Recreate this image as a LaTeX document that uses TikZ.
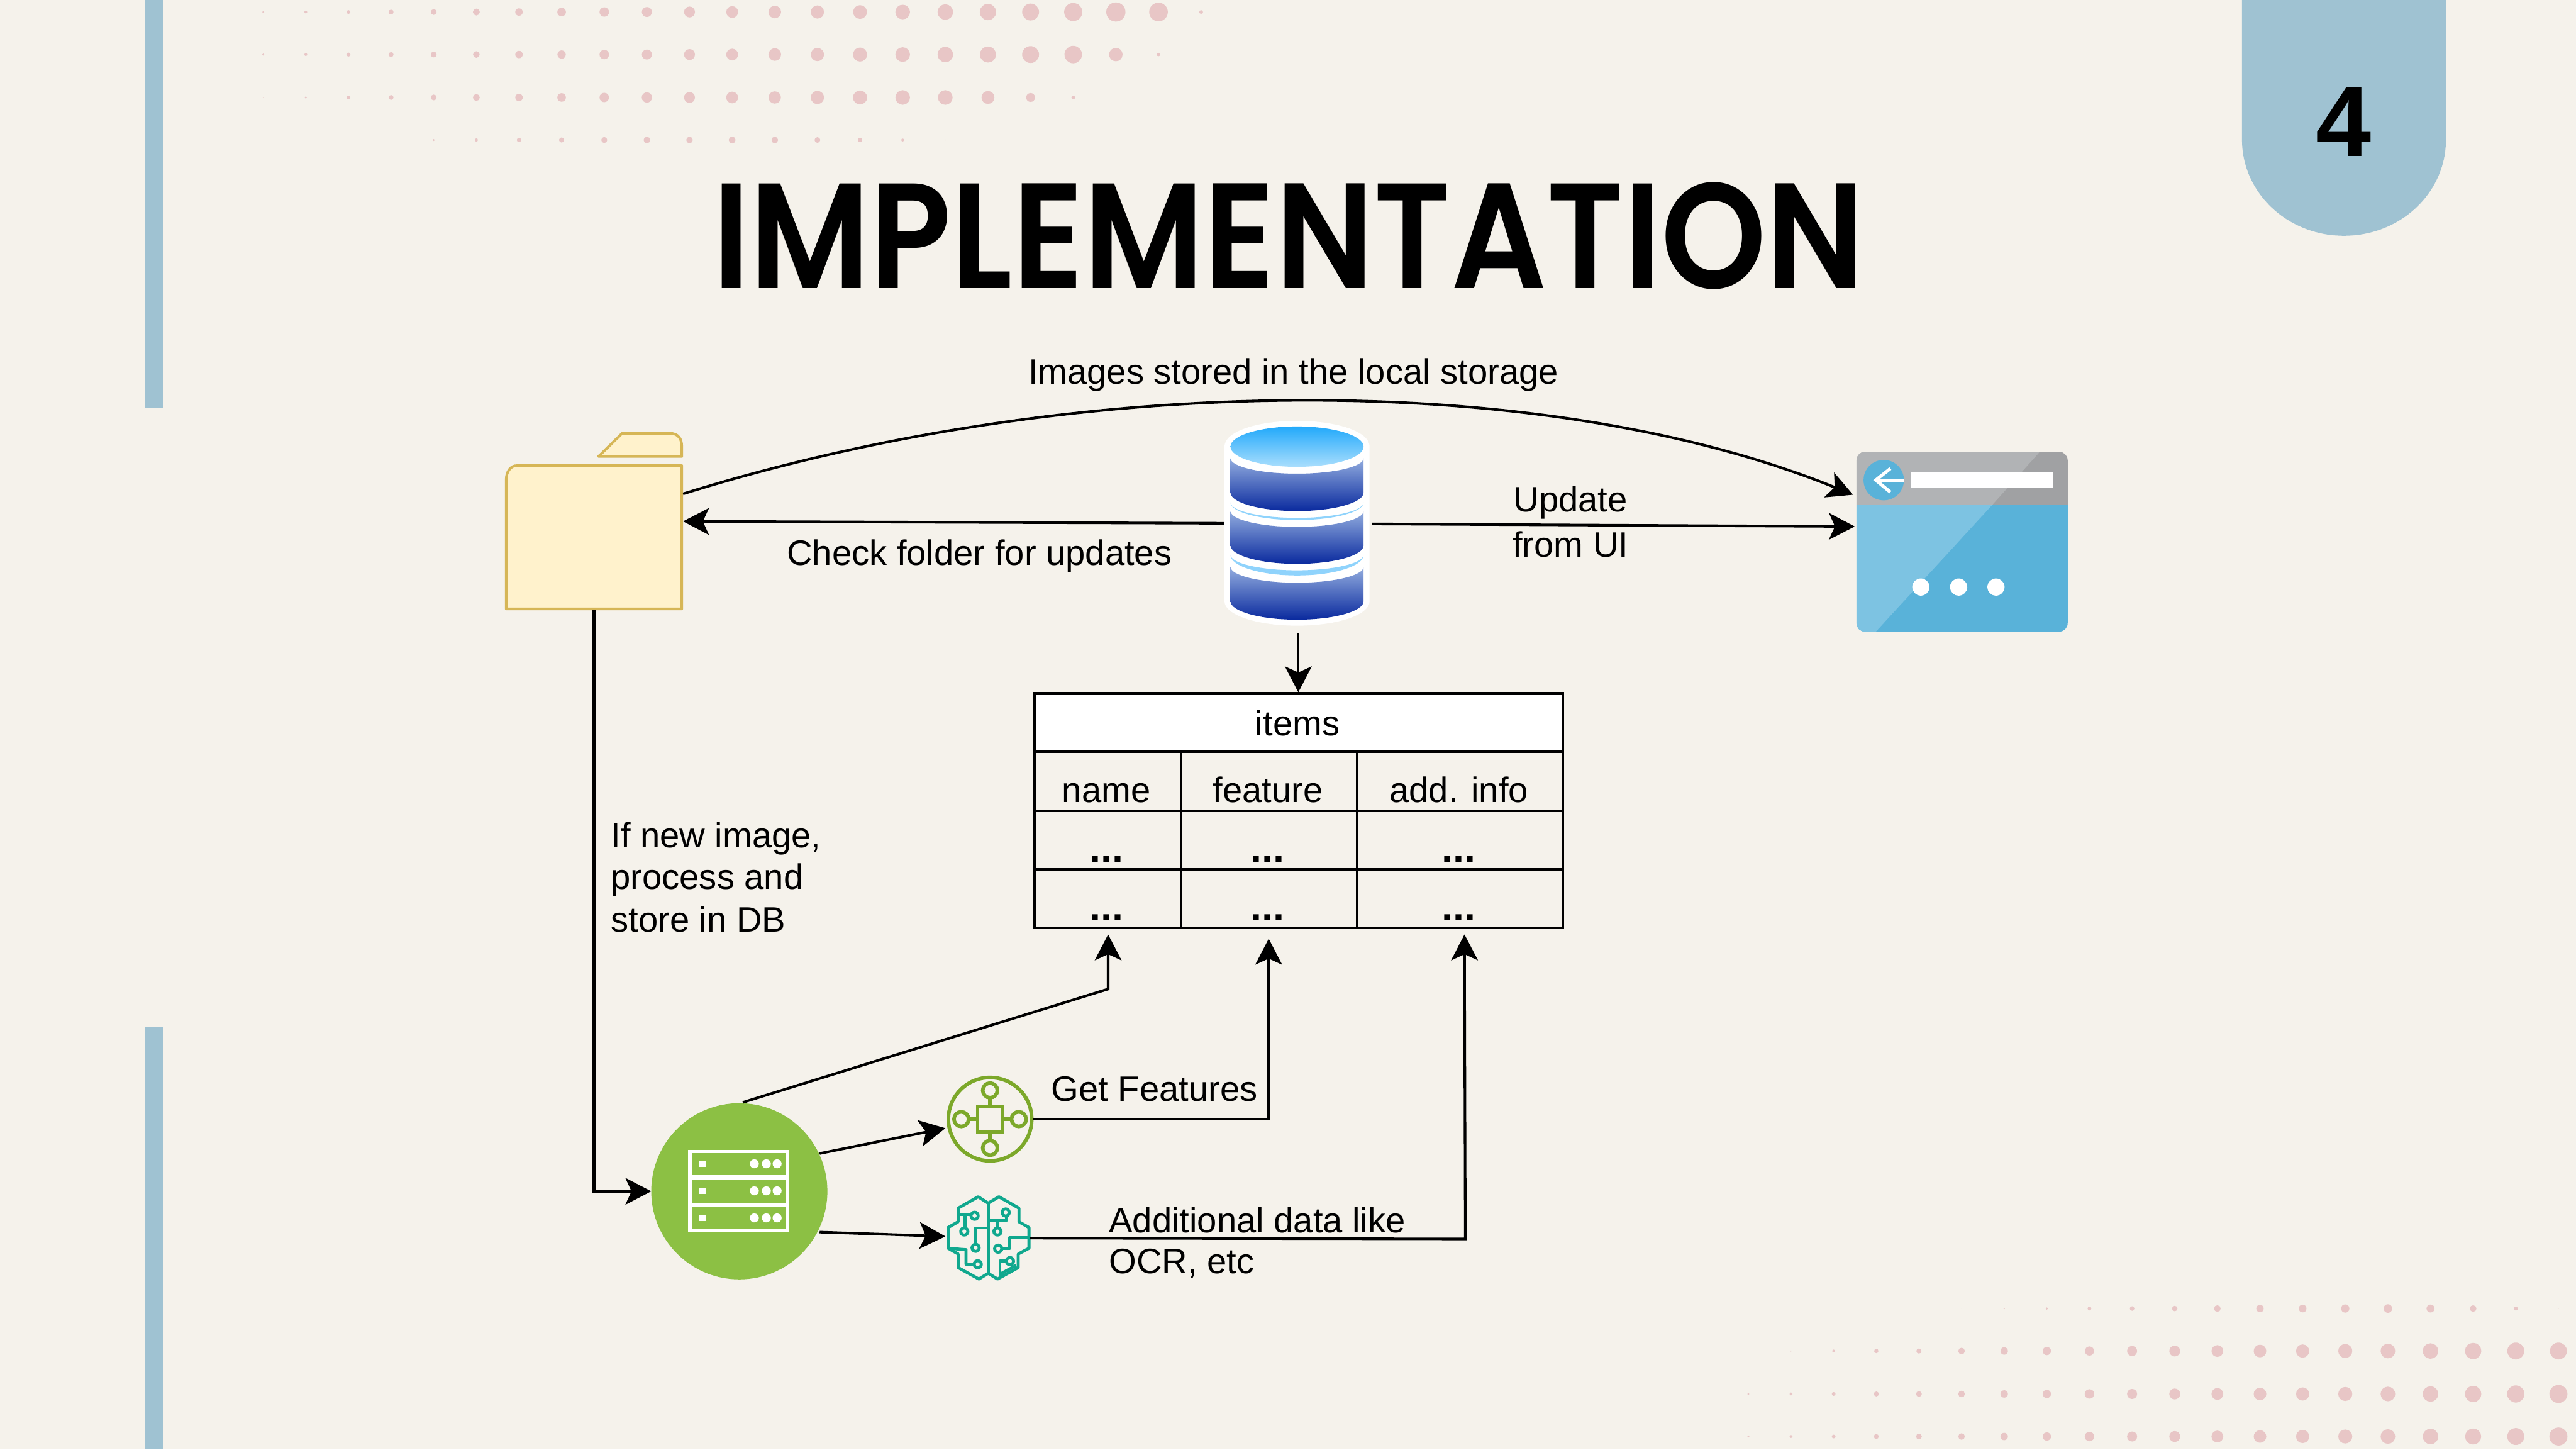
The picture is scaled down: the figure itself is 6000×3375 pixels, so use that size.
\documentclass[tikz,border=0pt]{standalone}
\usepackage{fontspec}
\usepackage{graphicx}
\setmainfont{Liberation Sans}
\newfontfamily\titlefont{Poppins SemiBold}
\usetikzlibrary{arrows.meta,calc}
\definecolor{bgc}{HTML}{F5F2EB}
\definecolor{barc}{HTML}{9FC2D2}
\definecolor{dotc}{HTML}{E8C6C6}
\definecolor{foldf}{HTML}{FFF2CC}
\definecolor{folds}{HTML}{D6B656}
\definecolor{srvc}{HTML}{8CC044}
\definecolor{featc}{HTML}{7CA82A}
\definecolor{brainc}{HTML}{10A88E}
\definecolor{wingl}{HTML}{B1B3B5}
\definecolor{wingd}{HTML}{A0A1A3}
\definecolor{winbl}{HTML}{7DC3E2}
\definecolor{winbd}{HTML}{59B2D9}
\definecolor{dbtopa}{HTML}{22A9FB}
\definecolor{dbtopb}{HTML}{A9DEFD}
\definecolor{dbbanda}{HTML}{93ADDF}
\definecolor{dbbandb}{HTML}{0A2A9E}
\definecolor{dbcres}{HTML}{8FD3FC}
\newcommand{\dbband}[4]{% top edge, top sag, bottom edge, bottom sag
  \shade[top color=dbbanda,bottom color=dbbandb,shading angle=0]
   (2866,#1) .. controls (2866,{#1+.55*#2}) and (2936,{#1+#2}) .. (3021,{#1+#2})
   .. controls (3106,{#1+#2}) and (3176,{#1+.55*#2}) .. (3176,#1)
   -- (3176,#3) .. controls (3176,{#3+.55*#4}) and (3106,{#3+#4}) .. (3021,{#3+#4})
   .. controls (2936,{#3+#4}) and (2866,{#3+.55*#4}) .. (2866,#3) -- cycle;}
\newcommand{\dbcrescent}[3]{% edge y, upper sag, lower sag
  \fill[dbcres]
   (2866,#1) .. controls (2866,{#1+.55*#2}) and (2936,{#1+#2}) .. (3021,{#1+#2})
   .. controls (3106,{#1+#2}) and (3176,{#1+.55*#2}) .. (3176,#1)
   .. controls (3176,{#1+.55*#3}) and (3106,{#1+#3}) .. (3021,{#1+#3})
   .. controls (2936,{#1+#3}) and (2866,{#1+.55*#3}) .. (2866,#1) -- cycle;}
\tikzset{
  conn/.style={line width=0.06cm,black,-{Stealth[length=0.6cm,width=0.62cm,inset=0.14cm]}},
  plainbox/.style={inner sep=0pt,outer sep=0pt,draw=none},
  lab/.style={inner sep=0pt,outer sep=0pt,font=\fontsize{23.4}{27}\selectfont,anchor=base west,align=left},
  cell/.style={inner sep=0pt,outer sep=0pt,font=\fontsize{23.4}{27}\selectfont,anchor=base},
  dotcell/.style={inner sep=0pt,outer sep=0pt,font=\fontsize{27}{27}\selectfont\bfseries,anchor=base},
  tblline/.style={line width=0.06cm,black},
  featline/.style={line width=0.085cm,featc},
  brainline/.style={line width=0.07cm,brainc,line join=round},
}
\begin{document}
\begin{tikzpicture}[x=0.01cm,y=-0.01cm]
\useasboundingbox (0,0) rectangle (6000,3375);
\fill[bgc] (0,0) rectangle (6000,3375);
% side bars and tab
\fill[barc] (337,0) rectangle (379,949);
\fill[barc] (337,2391) rectangle (379,3375);
\fill[barc] (5222,0) -- (5222,325) .. controls (5222,449) and (5328,549) .. (5459.5,549)
  .. controls (5591,549) and (5697,449) .. (5697,325) -- (5697,0) -- cycle;
\node[inner sep=0pt,anchor=base,font=\fontsize{66}{70}\selectfont\bfseries] (tabnum) at (5459,364) {4};
% dots, top
\foreach \dd [count=\i from 0] in {14,20,26,34,40,48,52,60,66,70,76,82,88,92,96,102,108,114,118,126,134,130,26}
  \fill[dotc] ({613+99.3*\i},28) circle[radius={\dd/600*1cm}];
\foreach \dd [count=\i from 0] in {14,20,28,34,40,46,52,58,66,70,76,82,88,92,98,102,108,112,118,122,94,24}
  \fill[dotc] ({613+99.3*\i},127) circle[radius={\dd/600*1cm}];
\foreach \dd [count=\i from 0] in {6,16,26,34,40,48,52,60,66,72,76,82,86,92,98,102,102,90,62,26}
  \fill[dotc] ({613+99.3*\i},227) circle[radius={\dd/600*1cm}];
\foreach \dd [count=\i from 3] in {4,14,22,30,36,42,46,46,48,46,40,32,20,6}
  \fill[dotc] ({613+99.3*\i},326) circle[radius={\dd/600*1cm}];
% dots, bottom
\foreach \dd [count=\i from 0] in {4,28,46,56,60,58,54,52,46,38,32,26,16,10,2}
  \fill[dotc] ({5959-99.3*\i},3047) circle[radius={\dd/600*1cm}];
\foreach \dd [count=\i from 0] in {118,118,114,108,102,98,92,88,82,76,70,64,58,52,46,36,30,20,8}
  \fill[dotc] ({5959-99.3*\i},3146) circle[radius={\dd/600*1cm}];
\foreach \dd [count=\i from 0] in {126,120,114,108,102,98,92,88,82,76,70,66,58,52,46,40,34,26,20,14}
  \fill[dotc] ({5959-99.3*\i},3246) circle[radius={\dd/600*1cm}];
\foreach \dd [count=\i from 0] in {126,118,112,108,102,98,92,88,82,76,70,66,58,52,46,40,34,26,20,14}
  \fill[dotc] ({5959-99.3*\i},3345) circle[radius={\dd/600*1cm}];
% title
\node[inner sep=0pt,outer sep=0pt,anchor=south west] (title) at (1660,674)
  {\resizebox{26.8cm}{2.47cm}{\titlefont IMPLEMENTATION}};
% folder
\node[plainbox,minimum width=4.15cm,minimum height=3.4cm] (folder) at (1383.5,1251) {};
\draw[line width=0.06cm,draw=folds,fill=foldf,line join=round]
  (1179,1418) -- (1179,1118) .. controls (1179,1098) and (1189,1084) .. (1205,1084) -- (1588,1084) -- (1588,1418) -- cycle;
\draw[line width=0.06cm,draw=folds,fill=foldf,line join=round]
  (1394,1063) -- (1449,1009) -- (1560,1009) .. controls (1580,1009) and (1588,1022) .. (1588,1040) -- (1588,1063) -- cycle;
% database
\node[plainbox,minimum width=3.38cm,minimum height=4.77cm] (db) at (3021,1218.5) {};
\fill[white] (2852,1040) .. controls (2852,1005) and (2928,980) .. (3021,980)
  .. controls (3114,980) and (3190,1005) .. (3190,1040) -- (3190,1400)
  .. controls (3190,1432) and (3114,1457) .. (3021,1457)
  .. controls (2928,1457) and (2852,1432) .. (2852,1400) -- cycle;
\shade[top color=dbtopa,bottom color=dbtopb,shading angle=0]
  (2866,1040) .. controls (2866,1014) and (2936,993) .. (3021,993)
  .. controls (3106,993) and (3176,1014) .. (3176,1040)
  .. controls (3176,1066) and (3106,1087) .. (3021,1087)
  .. controls (2936,1087) and (2866,1066) .. (2866,1040) -- cycle;
\dbcrescent{1170}{36}{41}
\dbcrescent{1292}{36}{48}
\dbband{1067}{36}{1147}{43}
\dbband{1190}{37}{1270}{43}
\dbband{1320}{37}{1400}{43}
% window
\node[plainbox,minimum width=4.92cm,minimum height=4.19cm] (window) at (4570,1261.5) {};
\begin{scope}
  \clip[rounded corners=0.2cm] (4324,1052) rectangle (4816,1471);
  \fill[winbd] (4324,1176) rectangle (4816,1471);
  \fill[wingd] (4324,1052) rectangle (4816,1176);
  \fill[wingl] (4324,1052) -- (4751,1052) -- (4640,1176) -- (4324,1176) -- cycle;
  \fill[winbl] (4324,1176) -- (4640,1176) -- (4369,1471) -- (4324,1471) -- cycle;
\end{scope}
\fill[winbd] (4387.5,1118) circle[radius=0.47cm];
\draw[white,line width=0.075cm] (4434,1118) -- (4369,1118);
\draw[white,line width=0.075cm] (4403,1091) -- (4369,1118) -- (4403,1146);
\fill[white] (4451,1099) rectangle (4783,1137);
\fill[white] (4474,1367) circle[radius=0.2cm];
\fill[white] (4562,1367) circle[radius=0.2cm];
\fill[white] (4649,1367) circle[radius=0.2cm];
% table
\fill[white] (2409,1615) rectangle (3640,1751);
\node[plainbox,minimum width=12.31cm,minimum height=5.46cm] (itemstbl) at (3024.5,1888) {};
\draw[tblline] (2409,1615) rectangle (3640,2161);
\draw[tblline] (2409,1751) -- (3640,1751);
\draw[tblline] (2409,1888) -- (3640,1888);
\draw[tblline] (2409,2024) -- (3640,2024);
\draw[tblline] (2751,1751) -- (2751,2161);
\draw[tblline] (3161,1751) -- (3161,2161);
\node[cell] (titems) at (3022,1713) {items};
\node[cell] (tname) at (2577,1869) {name};
\node[cell] (tfeat) at (2953,1869) {feature};
\node[cell] (tinfo) at (3398,1869) {add. info};
\node[dotcell] (ta1) at (2577,2008) {...};
\node[dotcell] (ta2) at (2953,2008) {...};
\node[dotcell] (ta3) at (3397,2008) {...};
\node[dotcell] (tb1) at (2577,2144) {...};
\node[dotcell] (tb2) at (2953,2144) {...};
\node[dotcell] (tb3) at (3397,2144) {...};
% server
\node[circle,inner sep=0pt,outer sep=0pt,minimum size=4.1cm,fill=srvc] (server) at (1722,2774) {};
\fill[white] (1603,2678) rectangle (1839,2870);
\foreach \ya/\yb/\yc in {2685/2736/2710,2747/2801/2773,2810/2861/2836}{
  \fill[srvc] (1613,\ya) rectangle (1830,\yb);
  \fill[white] (1627,{\yc-7}) rectangle (1643,{\yc+7});
  \fill[white] (1757,\yc) circle[radius=0.105cm];
  \fill[white] (1785,\yc) circle[radius=0.105cm];
  \fill[white] (1810,\yc) circle[radius=0.105cm];
}
% feature icon
\node[circle,inner sep=0pt,outer sep=0pt,minimum size=2.02cm] (feat) at (2306,2606) {};
\draw[featline] (2306,2606) circle[radius=0.97cm];
\draw[featline] (2277,2576) rectangle (2335,2636);
\draw[featline] (2306,2557) -- (2306,2576) (2306,2636) -- (2306,2655);
\draw[featline] (2257,2606) -- (2277,2606) (2335,2606) -- (2355,2606);
\draw[featline] (2306,2539) circle[radius=0.17cm];
\draw[featline] (2306,2673) circle[radius=0.17cm];
\draw[featline] (2239,2606) circle[radius=0.17cm];
\draw[featline] (2373,2606) circle[radius=0.17cm];
% brain icon
\node[plainbox,minimum width=1.96cm,minimum height=1.98cm] (brain) at (2302,2883) {};
\begin{scope}[shift={(2180,2770)},scale=0.3333]
  \draw[brainline] (365,95) -- (295,50) -- (155,130) -- (155,225) -- (85,265) -- (85,410) -- (155,450) -- (155,545) -- (300,625) -- (365,585)
     -- (430,625) -- (575,545) -- (575,450) -- (650,410) -- (650,265) -- (580,225) -- (580,130) -- (440,50) -- (365,95) -- cycle;
  \draw[brainline] (368,95) -- (368,585);
  \draw[brainline] (160,175) -- (245,175);
  \draw[brainline] (203,175) -- (203,265);
  \draw[brainline] (360,268) -- (275,268) -- (275,380);
  \draw[brainline] (85,410) -- (210,420) -- (210,522) -- (262,522);
  \draw[brainline] (375,215) -- (495,215) -- (495,188);
  \draw[brainline] (430,215) -- (430,265);
  \draw[brainline] (650,335) -- (515,335) -- (515,410) -- (463,410);
  \draw[brainline] (447,600) -- (447,500) -- (490,500);
  \draw[brainline] (450,590) -- (560,530);
  \foreach \cx/\cy in {270/183,198/293,277/407,292/522,487/160,430/293,435/413,517/500}
    \draw[brainline] (\cx,\cy) circle[radius=0.25cm];
\end{scope}
% named connector ends
\coordinate (folderA) at (1591,1150);
\coordinate (folderB) at (1591,1214);
\coordinate (winA) at (4316,1152);
\coordinate (winB) at (4320,1226);
\coordinate (dbE) at (3195,1220);
\coordinate (dbS) at (3024,1475);
\coordinate (tblT) at (3024,1612);
\coordinate (tblN) at (2581,2176);
\coordinate (tblF) at (2955,2186);
\coordinate (tblA) at (3411,2176);
\coordinate (srvT) at (1730,2567);
\coordinate (srvR1) at (1909,2686);
\coordinate (srvR2) at (1909,2869);
\coordinate (featW) at (2202,2627);
\coordinate (brainW) at (2202,2879);
\coordinate (brainE) at (2398,2883);
% connectors
\draw[conn] (folderA) .. controls (2516,862) and (3600,862) .. (winA);
\draw[conn] (db.west) -- (folderB);
\draw[conn] (dbE) -- (winB);
\draw[conn] (dbS) -- (tblT);
\draw[conn] (folder.south) -- (1383.5,2774) -- (server.west);
\draw[conn] (srvT) -- (2581,2303) -- (tblN);
\draw[conn] (srvR1) -- (featW);
\draw[conn] (srvR2) -- (brainW);
\draw[conn] (feat.east) -- (2955,2606) -- (tblF);
\draw[conn] (brainE) -- (3413,2885) -- (tblA);
% labels
\node[lab] (l1) at (2395,895) {Images stored in the local storage};
\node[lab] (l2) at (1833,1316) {Check folder for updates};
\node[cell] (l3) at (3658,1192) {Update};
\node[cell] (l3b) at (3658,1297) {from UI};
\node[lab] (l4a) at (1423,1974) {If new image,};
\node[lab] (l4b) at (1423,2070) {process and};
\node[lab] (l4c) at (1423,2170) {store in DB};
\node[lab] (l5) at (2449,2564) {Get Features};
\node[lab] (l6a) at (2583,2870) {Additional data like};
\node[lab] (l6b) at (2583,2965) {OCR, etc};
\end{tikzpicture}
\end{document}
